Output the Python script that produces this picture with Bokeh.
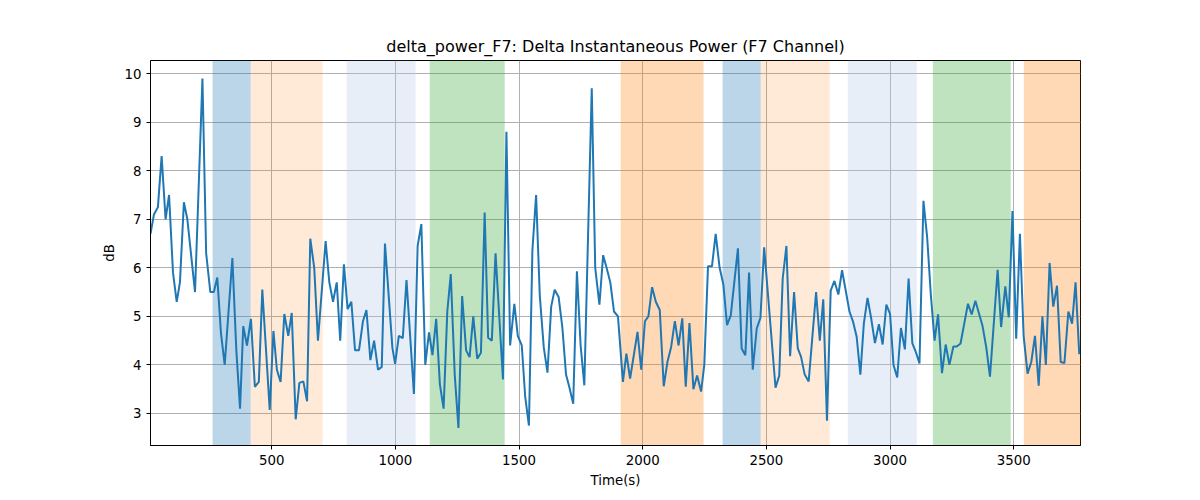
from bokeh.plotting import figure
from bokeh.models import BoxAnnotation, FixedTicker, Range1d
from bokeh.embed import file_html
from bokeh.resources import INLINE

t = [10,24,40,55,71,85,101,116,129,145,159,190,220,235,252,266,280,295,310,341,357,372,385,400,416,432,448,462,492,507,521,536,551,567,581,597,612,628,643,656,672,687,718,733,748,763,777,792,807,822,837,853,869,883,899,914,930,945,958,
     988,999,1014,1030,1045,1075,1090,1105,1121,1136,1150,1165,1180,1195,1210,1224,1240,1255,1270,1286,1300,1315,1331,1346,1361,1375,1390,1405,1435,1449,1464,1481,1495,1511,1525,1540,1554,1569,1584,1600,1615,1630,1644,1660,1675,1690,1704,1719,1734,1749,1764,1794,1808,1825,1840,1854,1869,1884,1900,
     1920,1934,1949,1979,1994,2009,2023,2038,2053,2069,2085,2100,2115,2130,2145,2160,2174,2189,2205,2220,2236,2249,2264,2280,2295,2311,2326,2341,2356,2385,2400,2415,2430,2445,2461,2476,2491,2537,2552,2566,2581,2596,2612,2627,2640,2655,2671,2701,2716,2730,2745,2760,2775,2791,2806,2836,
     2851,2865,2880,2894,2909,2924,2939,2955,2970,2985,3000,3014,3029,3044,3060,3075,3090,3104,3119,3135,3150,3165,3180,3194,3210,3225,3240,3256,3270,3285,3300,3315,3330,3345,3374,3389,3404,3435,3449,3466,3480,3495,3510,3525,3540,3556,3571,3586,3601,3616,3630,3645,3660,3675,3690,3705,3721,3736,3750,3765]
db = [6.7,7.1,7.25,8.3,7.0,7.5,5.9,5.3,5.7,7.35,7.0,5.5,9.9,6.3,5.5,5.5,5.8,4.65,4.0,6.2,4.3,3.1,4.8,4.4,4.95,3.55,3.65,5.55,3.07,4.7,3.9,3.65,5.05,4.6,5.07,2.88,3.63,3.66,3.25,6.6,6.0,4.5,6.55,5.7,5.3,5.7,4.5,6.07,5.15,5.3,4.3,4.3,4.9,5.13,4.1,4.5,3.9,3.96,6.5,
      4.35,4.02,4.6,4.55,5.75,3.4,6.45,6.9,4.0,4.67,4.2,4.95,3.6,3.1,5.1,5.87,3.8,2.7,5.42,4.3,4.16,5.0,4.13,4.25,7.14,4.56,4.5,6.3,3.7,8.8,4.4,5.26,4.6,4.4,3.34,2.75,6.36,7.5,5.42,4.36,3.84,5.2,5.55,5.4,4.78,3.8,3.53,3.2,5.93,4.4,3.58,9.7,6.0,5.24,6.26,6.0,5.7,5.1,5.0,
      3.65,4.23,3.72,4.68,3.9,4.9,5.0,5.6,5.3,5.13,3.56,4.06,4.37,4.9,4.4,4.96,3.55,4.86,3.5,3.78,3.45,4.0,6.03,6.03,6.7,6.0,5.66,4.82,5.02,6.4,4.34,4.2,5.9,3.9,4.75,4.97,6.42,3.53,3.78,5.78,6.45,4.18,5.5,4.34,4.17,3.8,3.66,5.5,4.5,5.35,2.85,5.53,5.73,5.45,5.95,5.1,
      4.88,4.58,3.8,4.85,5.38,4.95,4.45,4.84,4.42,5.24,5.05,4.0,3.74,4.76,4.32,5.78,4.45,4.27,4.03,7.38,6.63,5.44,4.5,5.04,3.83,4.42,4.0,4.38,4.38,4.44,4.85,5.26,5.04,5.32,4.8,4.36,3.76,5.96,4.78,5.62,4.98,7.17,4.54,6.7,4.6,3.82,4.06,4.6,3.57,5.0,4.0,6.1,5.2,5.63,4.06,4.04,5.1,4.85,5.7,4.22]

span_start = [261, 415, 803, 1139, 1911, 2323, 2477, 2829, 3173, 3541]
span_end = [415, 706, 1082, 1442, 2246, 2477, 2756, 3108, 3488, 3800]
span_color = ["#1f77b4", "#ff7f0e", "#aec7e8", "#2ca02c", "#ff7f0e", "#1f77b4", "#ff7f0e", "#aec7e8", "#2ca02c", "#ff7f0e"]
span_alpha = [0.3, 0.16, 0.3, 0.3, 0.3, 0.3, 0.16, 0.3, 0.3, 0.3]

p = figure(width=1184, height=492, output_backend="svg", toolbar_location=None,
           title="delta_power_F7: Delta Instantaneous Power (F7 Channel)",
           x_range=Range1d(10, 3770), y_range=Range1d(2.34, 10.27),
           min_border_left=150, min_border_right=104, min_border_top=60, min_border_bottom=47)
p.title.align = "center"
p.title.text_font = "DejaVu Sans"
p.title.text_font_style = "normal"
p.title.text_font_size = "12pt"
p.title.text_color = "black"
for s, e, c, a in zip(span_start, span_end, span_color, span_alpha):
    p.add_layout(BoxAnnotation(left=s, right=e, fill_color=c, fill_alpha=a, line_alpha=0, level="underlay"))
p.line(t, db, line_color="#1f77b4", line_width=2)
p.xaxis.ticker = FixedTicker(ticks=[500, 1000, 1500, 2000, 2500, 3000, 3500])
p.yaxis.ticker = FixedTicker(ticks=[3, 4, 5, 6, 7, 8, 9, 10])
p.xaxis.axis_label = "Time(s)"
p.yaxis.axis_label = "dB"
for ax in (p.xaxis[0], p.yaxis[0]):
    ax.axis_label_text_font = "DejaVu Sans"
    ax.axis_label_text_font_style = "normal"
    ax.axis_label_text_font_size = "10pt"
    ax.axis_label_text_color = "black"
    ax.major_label_text_font = "DejaVu Sans"
    ax.major_label_text_font_size = "10pt"
    ax.major_label_text_color = "black"
    ax.minor_tick_line_color = None
    ax.axis_line_color = "black"
    ax.major_tick_line_color = "black"
    ax.major_tick_in = 0
    ax.major_tick_out = 4
p.xgrid.grid_line_color = "#b0b0b0"
p.ygrid.grid_line_color = "#b0b0b0"
p.outline_line_color = "black"
p.outline_line_alpha = 1

open("out.html", "w").write(file_html(p, INLINE))
